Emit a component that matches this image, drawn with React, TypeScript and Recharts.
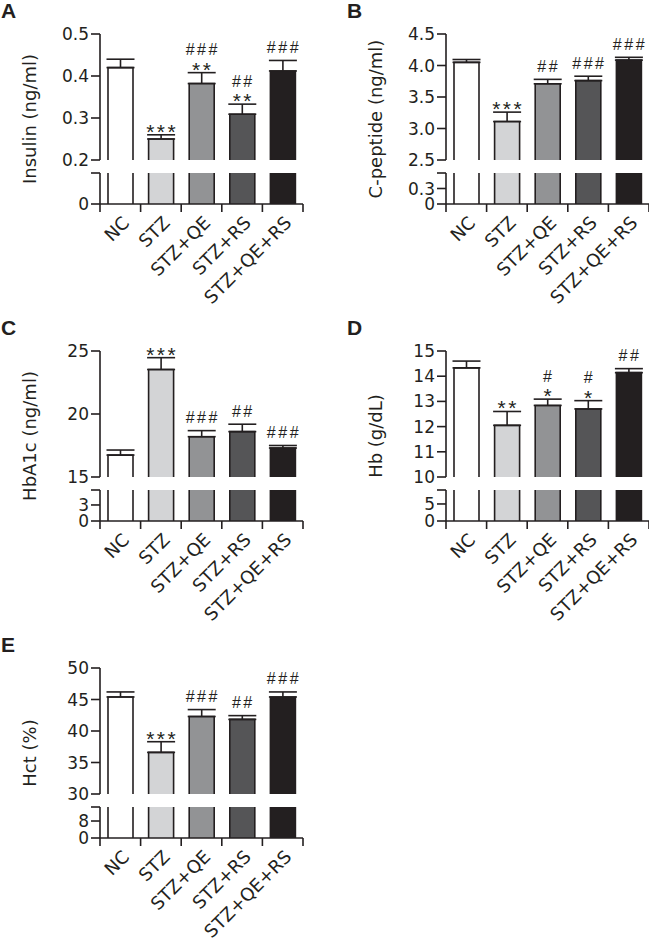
import { ComposedChart, Bar, Line, XAxis, YAxis, ErrorBar, Cell, LabelList } from "recharts";

const categories = ["NC", "STZ", "STZ+QE", "STZ+RS", "STZ+QE+RS"];
const barColors = ["#ffffff", "#d3d4d6", "#929395", "#555557", "#231f20"];

// A - insulin
const insulinMean = [0.42, 0.25, 0.382, 0.309, 0.412];
const insulinSem = [0.02, 0.01, 0.026, 0.024, 0.025];
const insulinStars = ["", "***", "**", "**", ""];
const insulinHashes = ["", "", "###", "##", "###"];

// B - C-peptide
const cpepMean = [4.05, 3.11, 3.71, 3.76, 4.085];
const cpepSem = [0.045, 0.15, 0.07, 0.07, 0.045];
const cpepStars = ["", "***", "", "", ""];
const cpepHashes = ["", "", "##", "###", "###"];

// C - HbA1c
const hba1cMean = [16.74, 23.53, 18.2, 18.6, 17.3];
const hba1cSem = [0.4, 0.94, 0.48, 0.59, 0.2];
const hba1cStars = ["", "***", "", "", ""];
const hba1cHashes = ["", "", "###", "##", "###"];

// D - Hb
const hbMean = [14.33, 12.05, 12.84, 12.7, 14.14];
const hbSem = [0.27, 0.55, 0.25, 0.33, 0.16];
const hbStars = ["", "**", "*", "*", ""];
const hbHashes = ["", "", "#", "#", "##"];

// E - Hct
const hctMean = [45.4, 36.6, 42.3, 41.84, 45.4];
const hctSem = [0.8, 1.7, 1.1, 0.6, 0.8];
const hctStars = ["", "***", "", "", ""];
const hctHashes = ["", "", "###", "##", "###"];

const INK = "#231f20";
const FONT = "'DejaVu Sans', sans-serif";
const SIGFONT = "'Liberation Sans', Arial, sans-serif";
const YW = 90; // y axis width
const PW = 203; // plot width
const MT = 30; // room above upper plot
const MB = 12; // room below upper plot (last tick label)
const UH = 126; // upper plot height
const LH = 31; // lower plot height
const XH = 112; // x axis label room
const SW = 1.6;

const xTicks = [0, 0.5, 1, 1.5, 2, 2.5, 3, 3.5, 4, 4.5, 5];

type PanelDef = {
  letter: string;
  axisX: number;
  top: number;
  yLabel: string;
  mean: number[];
  sem: number[];
  stars: string[];
  hashes: string[];
  upperDomain: [number, number];
  upperTicks: number[];
  digits: number;
  lowerDomain: [number, number];
  lowerTicks: number[];
  lowerLabels: string[];
};

const panels: PanelDef[] = [
  {
    letter: "A", axisX: 100, top: 0, yLabel: "Insulin (ng/ml)",
    mean: insulinMean, sem: insulinSem, stars: insulinStars, hashes: insulinHashes,
    upperDomain: [0.2, 0.5], upperTicks: [0.2, 0.3, 0.4, 0.5], digits: 1,
    lowerDomain: [0, 0.06], lowerTicks: [0, 0.06], lowerLabels: ["0", ""],
  },
  {
    letter: "B", axisX: 446, top: 0, yLabel: "C-peptide (ng/ml)",
    mean: cpepMean, sem: cpepSem, stars: cpepStars, hashes: cpepHashes,
    upperDomain: [2.5, 4.5], upperTicks: [2.5, 3.0, 3.5, 4.0, 4.5], digits: 1,
    lowerDomain: [0, 0.6], lowerTicks: [0, 0.3, 0.6], lowerLabels: ["0", "0.3", ""],
  },
  {
    letter: "C", axisX: 100, top: 317, yLabel: "HbA1c (ng/ml)",
    mean: hba1cMean, sem: hba1cSem, stars: hba1cStars, hashes: hba1cHashes,
    upperDomain: [15, 25], upperTicks: [15, 20, 25], digits: 0,
    lowerDomain: [0, 5.8], lowerTicks: [0, 3, 5.8], lowerLabels: ["0", "3", ""],
  },
  {
    letter: "D", axisX: 446, top: 317, yLabel: "Hb (g/dL)",
    mean: hbMean, sem: hbSem, stars: hbStars, hashes: hbHashes,
    upperDomain: [10, 15], upperTicks: [10, 11, 12, 13, 14, 15], digits: 0,
    lowerDomain: [0, 9.1], lowerTicks: [0, 5, 9.1], lowerLabels: ["0", "5", ""],
  },
  {
    letter: "E", axisX: 100, top: 634, yLabel: "Hct (%)",
    mean: hctMean, sem: hctSem, stars: hctStars, hashes: hctHashes,
    upperDomain: [30, 50], upperTicks: [30, 35, 40, 45, 50], digits: 0,
    lowerDomain: [0, 14.6], lowerTicks: [0, 8, 14.6], lowerLabels: ["0", "8", ""],
  },
];

function UpperBar(props: any) {
  const { x, y, width, height, fill } = props;
  if (!height || height <= 0) return null;
  return (
    <g>
      <rect x={x} y={y} width={width} height={height} fill={fill} />
      <path
        d={`M${x},${y + height}V${y}H${x + width}V${y + height}`}
        fill="none"
        stroke={INK}
        strokeWidth={SW}
      />
    </g>
  );
}

function LowerBar(props: any) {
  const { x, y, width, height, fill, background } = props;
  const bottom = y + height;
  const top = background ? Math.max(y, background.y) : y;
  return (
    <g>
      <rect x={x} y={top} width={width} height={bottom - top} fill={fill} />
      <path
        d={`M${x},${top}V${bottom}M${x + width},${top}V${bottom}`}
        fill="none"
        stroke={INK}
        strokeWidth={SW}
      />
    </g>
  );
}

function CatTick(props: any) {
  const { x, y, payload } = props;
  const v = payload.value as number;
  if (Number.isInteger(v)) {
    return <line x1={x} x2={x} y1={y} y2={y + 8} stroke={INK} strokeWidth={SW} />;
  }
  const name = categories[Math.floor(v)];
  const ax = x + 10;
  const ay = y + 20;
  return (
    <text
      x={ax}
      y={ay}
      transform={`rotate(-45 ${ax} ${ay})`}
      textAnchor="end"
      fontSize={18}
      fontFamily={FONT}
      fill={INK}
    >
      {name}
    </text>
  );
}

function SigLabel(props: any) {
  const { x, y, index, stars, hashes } = props;
  const s = stars[index];
  const h = hashes[index];
  return (
    <g>
      {s && (
        <text x={x + 1.25} y={y + 4} textAnchor="middle" fontSize={21} letterSpacing={2.5} fontFamily={SIGFONT} fill={INK}>
          {s}
        </text>
      )}
      {h && (
        <text x={x + 1.25} y={s ? y - 17.5 : y - 7.5} textAnchor="middle" fontSize={16} letterSpacing={2.5} fontFamily={SIGFONT} fill={INK}>
          {h}
        </text>
      )}
    </g>
  );
}

function Panel({ p }: { p: PanelDef }) {
  const rows = p.mean.map((m, i) => ({
    pos: i + 0.5,
    name: categories[i],
    mean: m,
    err: [0, p.sem[i]],
    top: m + p.sem[i],
  }));
  const chartLeft = p.axisX - YW;
  const tickStyle = { fill: INK, fontSize: 17, fontFamily: FONT };

  return (
    <>
      <div style={{ position: "absolute", left: chartLeft, top: p.top + 34 - MT }}>
        <ComposedChart width={YW + PW + 14} height={MT + UH + MB} data={rows} margin={{ top: MT, right: 14, bottom: MB, left: 0 }}>
          <XAxis type="number" dataKey="pos" domain={[0, 5]} hide />
          <YAxis
            type="number"
            domain={p.upperDomain}
            ticks={p.upperTicks}
            allowDataOverflow
            interval={0}
            width={YW}
            tickSize={9}
            tickMargin={2}
            tick={tickStyle}
            tickFormatter={(v: number) => v.toFixed(p.digits)}
            axisLine={{ stroke: INK, strokeWidth: SW }}
            tickLine={{ stroke: INK, strokeWidth: SW }}
          />
          <Bar dataKey="mean" barSize={25} shape={(bp: any) => <UpperBar {...bp} />} isAnimationActive={false}>
            {rows.map((_, i) => (
              <Cell key={i} fill={barColors[i]} />
            ))}
            <ErrorBar dataKey="err" direction="y" width={14} stroke={INK} strokeWidth={SW} />
          </Bar>
          <Line dataKey="top" stroke="none" dot={false} activeDot={false} isAnimationActive={false}>
            <LabelList
              dataKey="top"
              content={(lp: any) => <SigLabel {...lp} stars={p.stars} hashes={p.hashes} />}
            />
          </Line>
        </ComposedChart>
      </div>
      <div style={{ position: "absolute", left: chartLeft, top: p.top + 173 - 1 }}>
        <ComposedChart width={YW + PW + 14} height={1 + LH + XH} data={rows} margin={{ top: 1, right: 14, bottom: 0, left: 0 }}>
          <XAxis
            type="number"
            dataKey="pos"
            domain={[0, 5]}
            ticks={xTicks}
            interval={0}
            height={XH}
            tickSize={0}
            tickMargin={0}
            tickLine={false}
            axisLine={{ stroke: INK, strokeWidth: SW }}
            tick={(tp: any) => <CatTick {...tp} />}
          />
          <YAxis
            type="number"
            domain={p.lowerDomain}
            ticks={p.lowerTicks}
            allowDataOverflow
            interval={0}
            width={YW}
            tickSize={9}
            tickMargin={2}
            tick={tickStyle}
            tickFormatter={(v: number) => p.lowerLabels[p.lowerTicks.indexOf(v)] ?? ""}
            axisLine={{ stroke: INK, strokeWidth: SW }}
            tickLine={{ stroke: INK, strokeWidth: SW }}
          />
          <Bar dataKey="mean" barSize={25} shape={(bp: any) => <LowerBar {...bp} />} isAnimationActive={false}>
            {rows.map((_, i) => (
              <Cell key={i} fill={barColors[i]} />
            ))}
          </Bar>
        </ComposedChart>
      </div>
    </>
  );
}

export default function App() {
  return (
    <div
      style={{
        position: "absolute",
        left: 0,
        top: 0,
        width: 649,
        height: 948,
        overflow: "hidden",
        background: "#ffffff",
      }}
    >
      {panels.map((p) => (
        <Panel key={p.letter} p={p} />
      ))}
      <svg width={649} height={948} style={{ position: "absolute", left: 0, top: 0, pointerEvents: "none" }}>
        {panels.map((p) => {
          const lx = p.axisX - 64;
          const ly = p.top + 119;
          return (
            <g key={p.letter}>
              <text x={p.axisX - 99} y={p.top + 18} fontSize={21} fontWeight="bold" fontFamily={SIGFONT} fill={INK}>
                {p.letter}
              </text>
              <text
                x={lx}
                y={ly}
                transform={`rotate(-90 ${lx} ${ly})`}
                textAnchor="middle"
                fontSize={18}
                fontFamily={FONT}
                fill={INK}
              >
                {p.yLabel}
              </text>
            </g>
          );
        })}
      </svg>
    </div>
  );
}
